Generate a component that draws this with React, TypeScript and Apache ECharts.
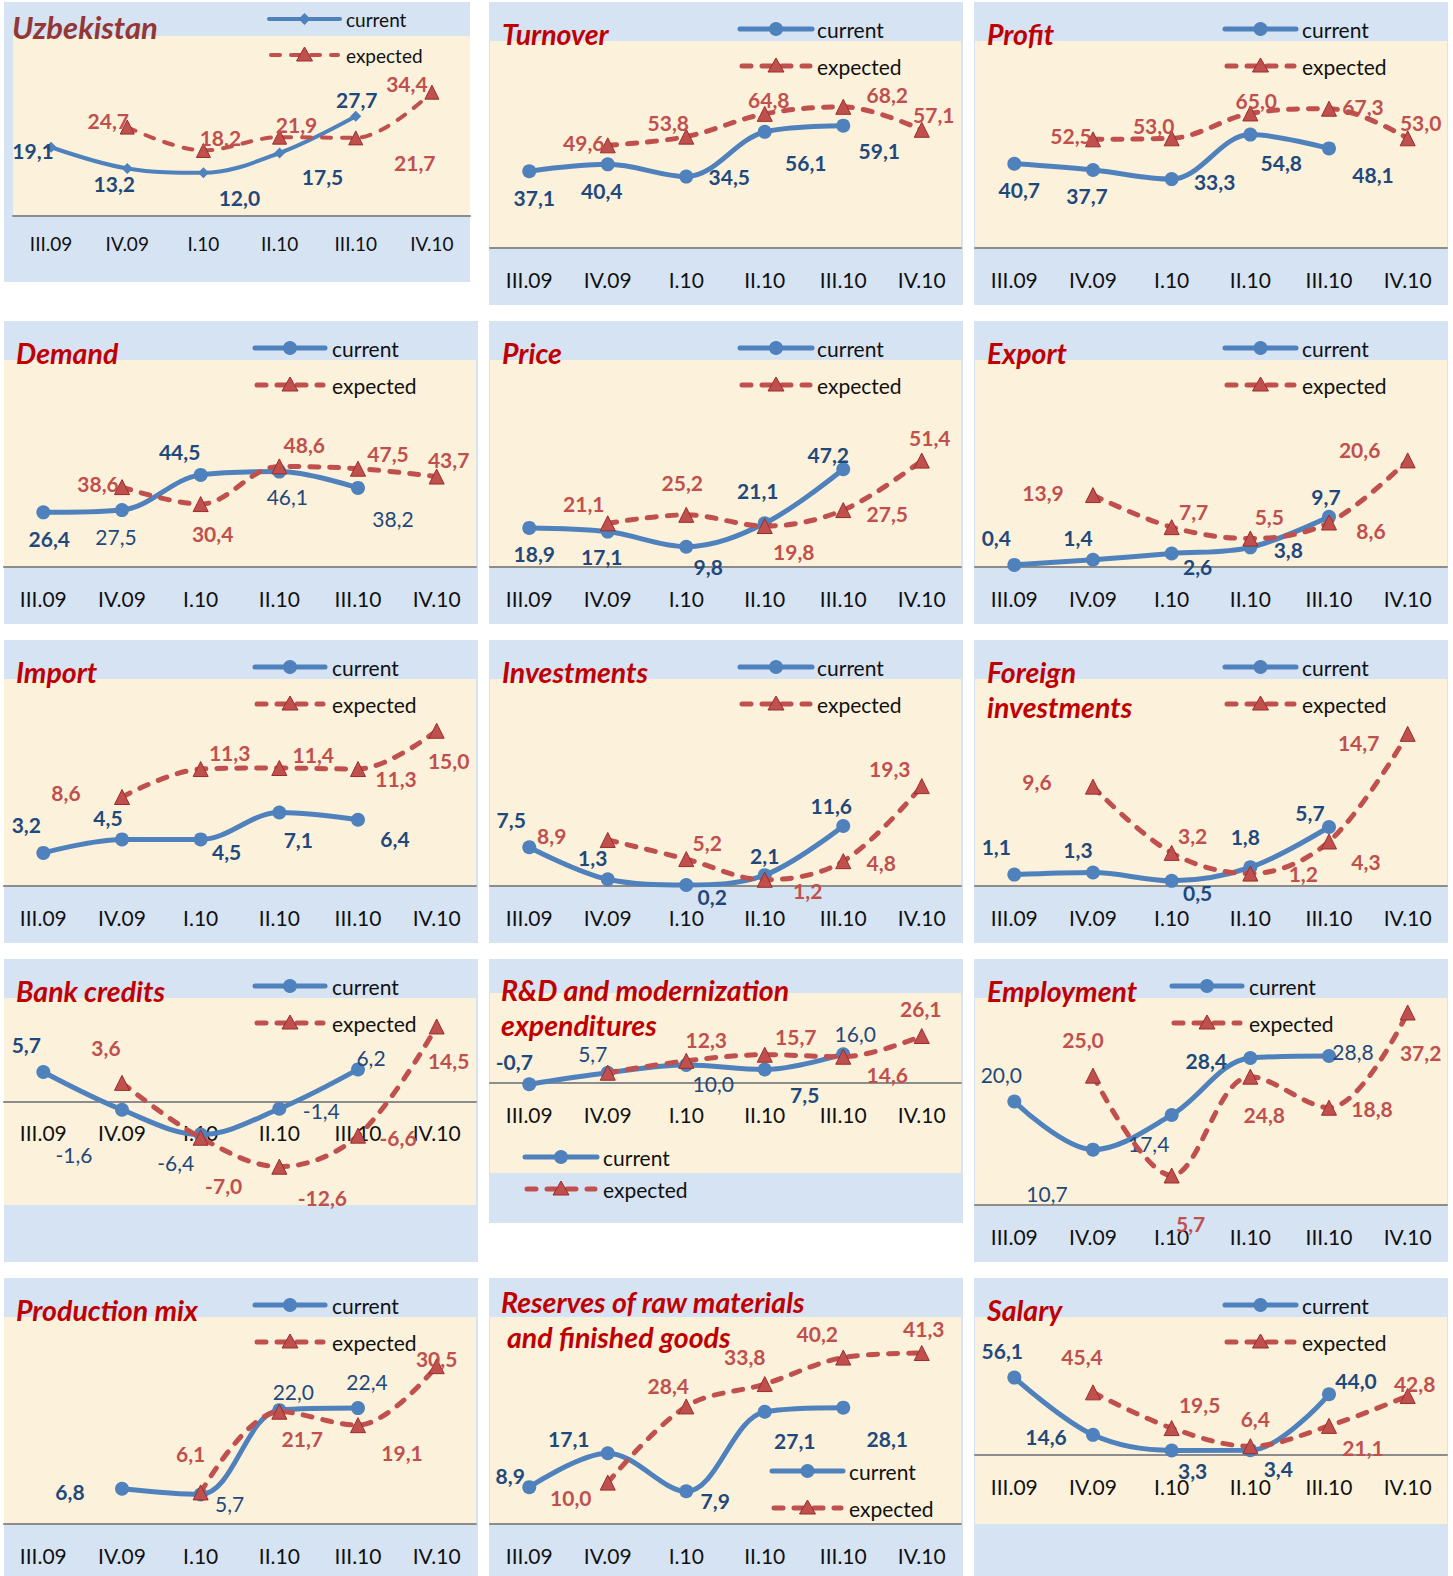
import { useEffect, useRef } from 'react';
import * as echarts from 'echarts';

// ---------------- data ----------------
const categories = ['III.09', 'IV.09', 'I.10', 'II.10', 'III.10', 'IV.10'];

const uzbekistanCurrent = [19.1, 13.2, 12.0, 17.5, 27.7, null];
const uzbekistanExpected = [null, 24.7, 18.2, 21.9, 21.7, 34.4];
const turnoverCurrent = [37.1, 40.4, 34.5, 56.1, 59.1, null];
const turnoverExpected = [null, 49.6, 53.8, 64.8, 68.2, 57.1];
const profitCurrent = [40.7, 37.7, 33.3, 54.8, 48.1, null];
const profitExpected = [null, 52.5, 53.0, 65.0, 67.3, 53.0];
const demandCurrent = [26.4, 27.5, 44.5, 46.1, 38.2, null];
const demandExpected = [null, 38.6, 30.4, 48.6, 47.5, 43.7];
const priceCurrent = [18.9, 17.1, 9.8, 21.1, 47.2, null];
const priceExpected = [null, 21.1, 25.2, 19.8, 27.5, 51.4];
const exportCurrent = [0.4, 1.4, 2.6, 3.8, 9.7, null];
const exportExpected = [null, 13.9, 7.7, 5.5, 8.6, 20.6];
const importCurrent = [3.2, 4.5, 4.5, 7.1, 6.4, null];
const importExpected = [null, 8.6, 11.3, 11.4, 11.3, 15.0];
const investmentsCurrent = [7.5, 1.3, 0.2, 2.1, 11.6, null];
const investmentsExpected = [null, 8.9, 5.2, 1.2, 4.8, 19.3];
const foreignCurrent = [1.1, 1.3, 0.5, 1.8, 5.7, null];
const foreignExpected = [null, 9.6, 3.2, 1.2, 4.3, 14.7];
const bankCurrent = [5.7, -1.6, -6.4, -1.4, 6.2, null];
const bankExpected = [null, 3.6, -7.0, -12.6, -6.6, 14.5];
const rdCurrent = [-0.7, 5.7, 10.0, 7.5, 16.0, null];
const rdExpected = [null, 5.7, 12.3, 15.7, 14.6, 26.1];
const employmentCurrent = [20.0, 10.7, 17.4, 28.4, 28.8, null];
const employmentExpected = [null, 25.0, 5.7, 24.8, 18.8, 37.2];
const mixCurrent = [null, 6.8, 5.7, 22.0, 22.4, null];
const mixExpected = [null, null, 6.1, 21.7, 19.1, 30.5];
const reservesCurrent = [8.9, 17.1, 7.9, 27.1, 28.1, null];
const reservesExpected = [null, 10.0, 28.4, 33.8, 40.2, 41.3];
const salaryCurrent = [56.1, 14.6, 3.3, 3.4, 44.0, null];
const salaryExpected = [null, 45.4, 19.5, 6.4, 21.1, 42.8];

// ---------------- styling / layout ----------------
type Val = number | null;
type Off = [number, number] | null;

const W = 1453;
const H = 1576;
const FONT = 'Lato, "Open Sans", "DejaVu Sans", sans-serif';
const C_BLUE = '#4f81bd';
const C_RED = '#c0504d';
const C_RED_DARK = '#9b2d2a';
const C_LBL_BLUE = '#1f497d';
const C_TITLE = '#c00000';
const C_PANEL = '#d6e3f2';
const C_CREAM = '#fcf1da';
const C_AXIS = '#8c8c8c';

const COLS = [
  { box: 4, gl: 4, gw: 472, leg: { x1: 255, x2: 325, tx: 332 }, tx: 16 },
  { box: 489, gl: 490, gw: 471, leg: { x1: 740, x2: 812, tx: 817 }, tx: 502 },
  { box: 974, gl: 975, gw: 472, leg: { x1: 1225, x2: 1296, tx: 1302 }, tx: 987 },
];
const ROWS = [
  { box: 2, h: 303, gt: 41 },
  { box: 321, h: 303, gt: 360 },
  { box: 640, h: 303, gt: 679 },
  { box: 959, h: 303, gt: 998 },
  { box: 1278, h: 298, gt: 1317 },
];

interface Panel {
  title: string[];
  titleX: number[];
  titleY: number[];
  titleSize: number;
  titleColor: string;
  box: [number, number, number, number];
  grid: [number, number, number, number];
  yMin: number;
  yMax: number;
  legend: { x1: number; x2: number; y1: number; y2: number; tx: number; size: number };
  current: Val[];
  expected: Val[];
  curOff: Off[];
  expOff: Off[];
  curLight?: number[];
  thin?: boolean;
  axisFont: number;
  axisMargin: number;
}

function std(
  c: number,
  r: number,
  title: string[],
  yMin: number,
  yMax: number,
  current: Val[],
  expected: Val[],
  curOff: Off[],
  expOff: Off[],
  extra: Partial<Panel> = {}
): Panel {
  const col = COLS[c];
  const row = ROWS[r];
  const base: Panel = {
    title,
    titleX: title.map(() => col.tx),
    titleY: title.length === 1 ? [row.box + 32] : [row.box + 32, row.box + 67],
    titleSize: 28.5,
    titleColor: C_TITLE,
    box: [col.box, row.box, 474, row.h],
    grid: [col.gl, row.gt, col.gw, 207],
    yMin,
    yMax,
    legend: { x1: col.leg.x1, x2: col.leg.x2, y1: row.box + 27, y2: row.box + 64, tx: col.leg.tx, size: 21 },
    current,
    expected,
    curOff,
    expOff,
    axisFont: 21,
    axisMargin: 20,
  };
  return { ...base, ...extra };
}

const PANELS: Panel[] = [
  {
    title: ['Uzbekistan'],
    titleX: [12],
    titleY: [27],
    titleSize: 31,
    titleColor: '#943634',
    box: [4, 2, 466, 280],
    grid: [13, 36, 457, 180],
    yMin: 0,
    yMax: 50,
    legend: { x1: 269, x2: 340, y1: 19, y2: 55, tx: 346, size: 19 },
    current: uzbekistanCurrent,
    expected: uzbekistanExpected,
    curOff: [[-18, 3], [-13, 15], [36, 25], [43, 23], [1, -17], null],
    expOff: [null, [-19, -7], [17, -13], [17, -13], [59, 25], [-25, -9]],
    thin: true,
    axisFont: 19,
    axisMargin: 17,
  },
  std(1, 0, ['Turnover'], 0, 100, turnoverCurrent, turnoverExpected,
    [[5, 26], [-6, 26], [43, 0], [41, 31], [36, 25], null],
    [null, [-24, -3], [-18, -14], [4, -14], [44, -12], [12, -15]]),
  std(2, 0, ['Profit'], 0, 100, profitCurrent, profitExpected,
    [[5, 26], [-6, 26], [43, 2], [31, 28], [44, 26], null],
    [null, [-22, -4], [-18, -13], [6, -13], [34, -2], [13, -16]]),
  std(0, 1, ['Demand'], 0, 100, demandCurrent, demandExpected,
    [[6, 26], [-6, 26], [-21, -23], [8, 25], [35, 31], null],
    [null, [-24, -4], [12, 29], [25, -22], [30, -15], [12, -17]],
    { curLight: [1, 3, 4] }),
  std(1, 1, ['Price'], 0, 100, priceCurrent, priceExpected,
    [[5, 26], [-6, 25], [22, 20], [-7, -33], [-15, -15], null],
    [null, [-24, -20], [-4, -32], [29, 25], [44, 3], [8, -23]]),
  std(2, 1, ['Export'], 0, 40, exportCurrent, exportExpected,
    [[-18, -27], [-15, -22], [26, 13], [38, 2], [-3, -20], null],
    [null, [-50, -3], [22, -16], [19, -22], [42, 8], [-48, -11]]),
  std(0, 2, ['Import'], 0, 20, importCurrent, importExpected,
    [[-17, -28], [-14, -22], [26, 12], [19, 27], [37, 19], null],
    [null, [-56, -4], [29, -17], [34, -14], [38, 9], [12, 30]]),
  std(1, 2, ['Investments'], 0, 40, investmentsCurrent, investmentsExpected,
    [[-18, -28], [-15, -22], [26, 12], [0, -20], [-12, -20], null],
    [null, [-56, -4], [21, -17], [43, 11], [38, 1], [-32, -18]]),
  std(2, 2, ['Foreign', 'investments'], 0, 20, foreignCurrent, foreignExpected,
    [[-18, -28], [-15, -23], [26, 12], [-5, -31], [-19, -15], null],
    [null, [-56, -5], [21, -17], [53, 0], [37, 20], [-49, 9]]),
  std(0, 3, ['Bank credits'], -20, 20, bankCurrent, bankExpected,
    [[-17, -28], [-48, 45], [-25, 28], [42, 2], [13, -12], null],
    [null, [-16, -35], [23, 48], [43, 31], [40, 2], [12, 34]],
    { curLight: [1, 2, 3, 4] }),
  std(1, 3, ['R&D and modernization', 'expenditures'], -50, 50, rdCurrent, rdExpected,
    [[-15, -23], [-15, -19], [27, 18], [40, 25], [12, -21], null],
    [null, null, [20, -21], [31, -18], [44, 18], [-1, -28]],
    {
      box: [489, 959, 474, 264],
      grid: [490, 993, 471, 180],
      titleX: [501, 501],
      titleY: [990, 1025],
      legend: { x1: 525, x2: 597, y1: 1157, y2: 1189, tx: 603, size: 21 },
      curLight: [1, 2, 4],
    }),
  std(2, 3, ['Employment'], 0, 40, employmentCurrent, employmentExpected,
    [[-13, -27], [-46, 44], [-23, 29], [-44, 2], [24, -4], null],
    [null, [-10, -36], [19, 48], [14, 38], [43, 1], [13, 40]],
    {
      legend: { x1: 1172, x2: 1242, y1: 986, y2: 1023, tx: 1249, size: 21 },
      curLight: [0, 1, 2, 4],
    }),
  std(0, 4, ['Production mix'], 0, 40, mixCurrent, mixExpected,
    [null, [-52, 3], [29, 9], [14, -19], [9, -27], null],
    [null, null, [-10, -39], [23, 27], [44, 27], [0, -8]],
    { curLight: [2, 3, 4] }),
  std(1, 4, ['Reserves of raw materials', 'and finished goods'], 0, 50, reservesCurrent, reservesExpected,
    [[-19, -12], [-39, -15], [29, 9], [30, 29], [44, 31], null],
    [null, [-37, 15], [-18, -21], [-20, -28], [-26, -24], [2, -25]],
    {
      titleX: [501, 507],
      titleY: [1302, 1337],
      legend: { x1: 772, x2: 843, y1: 1471, y2: 1508, tx: 849, size: 21 },
    }),
  std(2, 4, ['Salary'], -50, 100, salaryCurrent, salaryExpected,
    [[-12, -27], [-47, 2], [21, 20], [28, 18], [27, -14], null],
    [null, [-11, -36], [28, -24], [5, -28], [34, 22], [7, -12]]),
];

function fmt(v: number): string {
  return v.toFixed(1).replace('.', ',');
}

function makeSeries(i: number, p: Panel, kind: 'current' | 'expected') {
  const isCur = kind === 'current';
  const vals = isCur ? p.current : p.expected;
  const offs = isCur ? p.curOff : p.expOff;
  const data = vals.map((v, j) => {
    if (v == null) return null;
    const o = offs[j];
    if (!o) return { value: v, label: { show: false } };
    const light = isCur && p.curLight && p.curLight.includes(j);
    return { value: v, label: { offset: o, fontWeight: light ? 'normal' : 'bold' } };
  });
  const lw = p.thin ? 4 : 5;
  return {
    type: 'line',
    name: kind,
    xAxisIndex: i,
    yAxisIndex: i,
    data,
    smooth: 0.35,
    connectNulls: false,
    showAllSymbol: true,
    symbol: isCur ? (p.thin ? 'diamond' : 'circle') : 'triangle',
    symbolSize: isCur ? (p.thin ? 11 : 14) : p.thin ? 14 : 15,
    lineStyle: isCur
      ? { color: C_BLUE, width: lw }
      : { color: C_RED, width: lw, type: [9, 11], cap: 'round' },
    itemStyle: isCur
      ? { color: C_BLUE }
      : { color: C_RED, borderColor: C_RED_DARK, borderWidth: 1 },
    label: {
      show: true,
      position: 'inside',
      fontFamily: FONT,
      fontSize: 21,
      fontWeight: 'bold',
      color: isCur ? C_LBL_BLUE : C_RED,
      formatter: (prm: any) => fmt(Number(prm.value)),
    },
    emphasis: { disabled: true },
    z: isCur ? 3 : 4,
  };
}

function buildOption() {
  const grids: any[] = [];
  const xAxes: any[] = [];
  const yAxes: any[] = [];
  const series: any[] = [];
  const elements: any[] = [];

  PANELS.forEach((p, i) => {
    elements.push({
      type: 'rect',
      z: -20,
      silent: true,
      shape: { x: p.box[0], y: p.box[1], width: p.box[2], height: p.box[3] },
      style: { fill: C_PANEL },
    });
    elements.push({
      type: 'rect',
      z: -19,
      silent: true,
      shape: { x: p.grid[0], y: p.grid[1], width: p.grid[2], height: p.grid[3] },
      style: { fill: C_CREAM },
    });

    // the category axis sits on the value 0
    const zeroFromBottom = p.yMin < 0 ? (p.grid[3] * -p.yMin) / (p.yMax - p.yMin) : 0;

    grids.push({ left: p.grid[0], top: p.grid[1], width: p.grid[2], height: p.grid[3], show: false });
    xAxes.push({
      type: 'category',
      gridIndex: i,
      data: categories,
      boundaryGap: true,
      position: 'bottom',
      offset: -zeroFromBottom,
      axisLine: { show: true, onZero: false, lineStyle: { color: C_AXIS, width: 2 } },
      axisTick: { show: false },
      splitLine: { show: false },
      axisLabel: {
        color: '#111',
        fontFamily: FONT,
        fontSize: p.axisFont,
        lineHeight: p.axisFont + 1,
        margin: p.axisMargin,
        interval: 0,
      },
    });
    yAxes.push({ type: 'value', gridIndex: i, min: p.yMin, max: p.yMax, show: false, splitLine: { show: false } });
    series.push(makeSeries(i, p, 'current'));
    series.push(makeSeries(i, p, 'expected'));

    p.title.forEach((t, k) => {
      elements.push({
        type: 'text',
        z: 50,
        x: p.titleX[k],
        y: p.titleY[k],
        silent: true,
        style: {
          text: t,
          fontFamily: FONT,
          fontSize: p.titleSize,
          fontWeight: 'bold',
          fontStyle: 'italic',
          fill: p.titleColor,
          align: 'left',
          verticalAlign: 'middle',
        },
      });
    });

    const L = p.legend;
    const cx = (L.x1 + L.x2) / 2;
    const lw = p.thin ? 4 : 5;
    elements.push({
      type: 'line',
      z: 50,
      silent: true,
      shape: { x1: L.x1, y1: L.y1, x2: L.x2, y2: L.y1 },
      style: { stroke: C_BLUE, lineWidth: lw, lineCap: 'round' },
    });
    if (p.thin) {
      elements.push({
        type: 'polygon',
        z: 51,
        silent: true,
        shape: { points: [[cx, L.y1 - 6], [cx + 6, L.y1], [cx, L.y1 + 6], [cx - 6, L.y1]] },
        style: { fill: C_BLUE },
      });
    } else {
      elements.push({
        type: 'circle',
        z: 51,
        silent: true,
        shape: { cx, cy: L.y1, r: 7 },
        style: { fill: C_BLUE },
      });
    }
    elements.push({
      type: 'line',
      z: 50,
      silent: true,
      shape: { x1: L.x1 + 2, y1: L.y2, x2: L.x2 - 2, y2: L.y2 },
      style: { stroke: C_RED, lineWidth: lw, lineCap: 'round', lineDash: [9, 11] },
    });
    elements.push({
      type: 'polygon',
      z: 51,
      silent: true,
      shape: { points: [[cx, L.y2 - 8], [cx + 8, L.y2 + 6], [cx - 8, L.y2 + 6]] },
      style: { fill: C_RED, stroke: C_RED_DARK, lineWidth: 1 },
    });
    elements.push({
      type: 'text',
      z: 50,
      x: L.tx,
      y: L.y1,
      silent: true,
      style: { text: 'current', fontFamily: FONT, fontSize: L.size, fill: '#111', align: 'left', verticalAlign: 'middle' },
    });
    elements.push({
      type: 'text',
      z: 50,
      x: L.tx,
      y: L.y2,
      silent: true,
      style: { text: 'expected', fontFamily: FONT, fontSize: L.size, fill: '#111', align: 'left', verticalAlign: 'middle' },
    });
  });

  return {
    animation: false,
    backgroundColor: '#ffffff',
    grid: grids,
    xAxis: xAxes,
    yAxis: yAxes,
    series,
    graphic: { elements },
  };
}

export default function App() {
  const ref = useRef<HTMLDivElement>(null);
  useEffect(() => {
    if (!ref.current) return;
    const chart = echarts.init(ref.current, null, { renderer: 'svg', width: W, height: H });
    chart.setOption(buildOption() as any);
    return () => chart.dispose();
  }, []);
  return (
    <div
      ref={ref}
      style={{ position: 'absolute', left: 0, top: 0, width: W, height: H, background: '#fff' }}
    />
  );
}
